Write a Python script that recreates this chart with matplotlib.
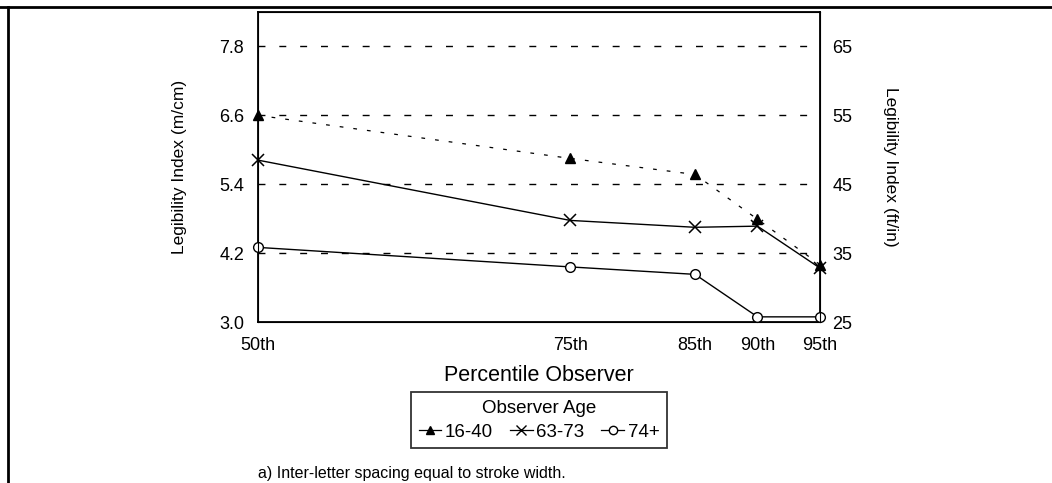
import matplotlib.pyplot as plt
from matplotlib.lines import Line2D

plt.rcParams["font.family"] = ["Liberation Sans", "DejaVu Sans"]

percentiles = [50, 75, 85, 90, 95]
tick_labels = ["50th", "75th", "85th", "90th", "95th"]

# legibility index in m/cm per observer age group
age_16_40 = [6.60, 5.85, 5.57, 4.79, 4.00]
age_63_73 = [5.82, 4.77, 4.65, 4.67, 3.94]
age_74_up = [4.30, 3.96, 3.83, 3.09, 3.09]

left_ticks = [3.0, 4.2, 5.4, 6.6, 7.8]
right_ticks = [25, 35, 45, 55, 65]


def main():
    fig = plt.figure(figsize=(10.52, 4.83), dpi=100)
    ax = fig.add_axes([0.2452, 0.3333, 0.5342, 0.6418])

    for y in left_ticks[1:]:
        ax.axhline(y, color="black", linewidth=1.0, linestyle=(0, (5, 10)), zorder=1)

    ax.plot(percentiles, age_16_40, color="black", linewidth=0.9, linestyle=(0, (3, 8)),
            marker="^", markersize=7, clip_on=False, zorder=3)
    ax.plot(percentiles, age_63_73, color="black", linewidth=1.0,
            marker="x", markersize=8, markeredgewidth=1.1, clip_on=False, zorder=3)
    ax.plot(percentiles, age_74_up, color="black", linewidth=1.0,
            marker="o", markersize=7, markerfacecolor="white", markeredgewidth=1.0,
            clip_on=False, zorder=3)

    ax.set_xlim(50, 95)
    ax.set_ylim(3.0, 8.4)
    ax.set_xticks(percentiles)
    ax.set_xticklabels(tick_labels, fontsize=13)
    ax.set_yticks(left_ticks)
    ax.set_yticklabels([f"{v:.1f}" for v in left_ticks], fontsize=13)
    ax.tick_params(axis="y", length=0, pad=10)
    ax.tick_params(axis="x", length=0, pad=11)
    ax.set_xlabel("Percentile Observer", fontsize=15.5, labelpad=8)
    ax.set_ylabel("Legibility Index (m/cm)", fontsize=12.5, va="center")
    ax.yaxis.set_label_coords(-0.139, 0.5)
    for sp in ax.spines.values():
        sp.set_linewidth(1.3)

    ax2 = ax.twinx()
    ax2.set_ylim(25, 70)
    ax2.set_yticks(right_ticks)
    ax2.set_yticklabels([str(v) for v in right_ticks], fontsize=13)
    ax2.tick_params(length=0, pad=9)
    ax2.set_ylabel("Legibility Index (ft/in)", fontsize=12.5, rotation=-90, va="center")
    ax2.yaxis.set_label_coords(1.126, 0.5)

    handles = [
        Line2D([], [], color="black", linewidth=0.9, marker="^", markersize=6),
        Line2D([], [], color="black", linewidth=0.9, marker="x", markersize=7),
        Line2D([], [], color="black", linewidth=0.9, marker="o", markersize=6,
               markerfacecolor="white"),
    ]
    leg = fig.legend(handles, ["16-40", "63-73", "74+"], title="Observer Age",
                     loc="upper center", bbox_to_anchor=(0.5124, 0.1884), ncol=3,
                     fontsize=13.5, title_fontsize=13.5, frameon=True, fancybox=False,
                     handlelength=1.2, handletextpad=0.2, columnspacing=0.9,
                     borderpad=0.4, borderaxespad=0)
    leg.get_frame().set_edgecolor("black")
    leg.get_frame().set_linewidth(1.3)
    leg._legend_box.sep = 5

    fig.text(0.2452, 0.0207, "a) Inter-letter spacing equal to stroke width.",
             fontsize=11.5, va="center")

    # page frame around the panel
    fig.add_artist(Line2D([0, 1], [0.9855, 0.9855], color="black", linewidth=2,
                          transform=fig.transFigure))
    fig.add_artist(Line2D([0.0076, 0.0076], [0, 0.9855], color="black", linewidth=2,
                          transform=fig.transFigure))

    fig.savefig("out.png", dpi=100)


if __name__ == "__main__":
    main()
